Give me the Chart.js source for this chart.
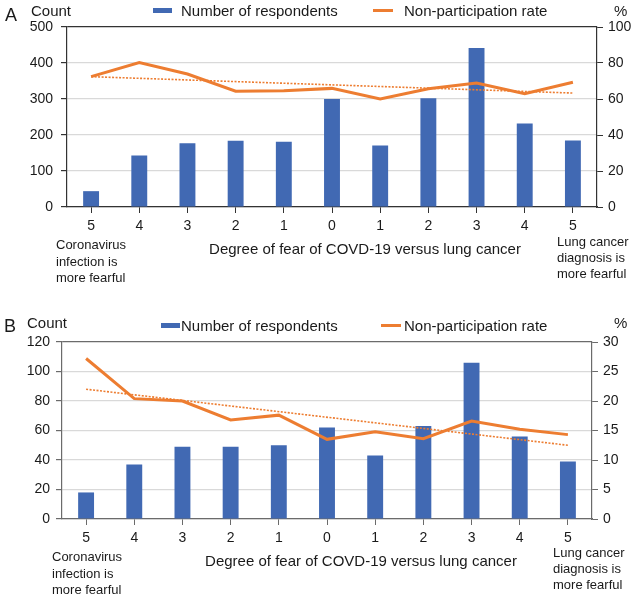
<!DOCTYPE html>
<html>
<head>
<meta charset="utf-8">
<script src="https://cdn.jsdelivr.net/npm/chart.js@4.4.1/dist/chart.umd.min.js"></script>
<style>
  body { margin: 0; background: #fff; }
  #wrap { position: relative; width: 632px; height: 596px; overflow: hidden; font-family: "Liberation Sans", Arial, sans-serif; color: #1a1a1a; }
  canvas { position: absolute; left: 0; }
  .t { position: absolute; line-height: 1; white-space: nowrap; transform: translateY(-50%); }
  .key { position: absolute; }
</style>
</head>
<body>
<div id="wrap">
  <canvas id="chartA" width="632" height="300" style="top:0"></canvas>
  <canvas id="chartB" width="632" height="296" style="top:300px"></canvas>
</div>
<script>
// categories on the x axis (degree of fear)
const categories = ["5", "4", "3", "2", "1", "0", "1", "2", "3", "4", "5"];

// panel A
const respondentsA = [44, 143, 177, 184, 181, 300, 171, 302, 442, 232, 185];
const rateA = [72.4, 80.2, 73.9, 64.3, 64.6, 65.9, 60.0, 65.7, 68.9, 63.0, 69.3];
const trendA = [72.4, 63.3]; // start / end of the dotted trend line
const countTicksA = [0, 100, 200, 300, 400, 500];
const rateTicksA = [0, 20, 40, 60, 80, 100];

// panel B
const respondentsB = [18, 37, 49, 49, 50, 62, 43, 63, 106, 56, 39];
const rateB = [27.2, 20.4, 20.0, 16.8, 17.6, 13.5, 14.8, 13.6, 16.6, 15.2, 14.3];
const trendB = [22.0, 12.5];
const countTicksB = [0, 20, 40, 60, 80, 100, 120];
const rateTicksB = [0, 5, 10, 15, 20, 25, 30];

const BLUE = "#4169b3";
const ORANGE = "#ed7d31";
const FONT = { family: "'Liberation Sans', Arial, sans-serif", size: 14 };

// only the two ends are known, the library joins them
function trendSeries(ends) {
  return categories.map((c, i) => (i === 0 ? ends[0] : i === categories.length - 1 ? ends[1] : null));
}

function makeChart(id, p) {
  const ctx = document.getElementById(id).getContext("2d");
  const countMax = p.countTicks[p.countTicks.length - 1];
  const rateMax = p.rateTicks[p.rateTicks.length - 1];
  return new Chart(ctx, {
    type: "bar",
    data: {
      labels: categories,
      datasets: [
        {
          type: "line",
          data: p.rate,
          yAxisID: "y1",
          borderColor: ORANGE,
          borderWidth: 3,
          pointRadius: 0,
          tension: 0,
          order: 0,
        },
        {
          type: "line",
          data: trendSeries(p.trend),
          yAxisID: "y1",
          borderColor: ORANGE,
          borderWidth: 1.6,
          borderDash: [2, 1.5],
          pointRadius: 0,
          spanGaps: true,
          order: 0,
        },
        {
          data: p.counts,
          yAxisID: "y",
          backgroundColor: BLUE,
          categoryPercentage: 1,
          barPercentage: 0.33,
          order: 1,
        },
      ],
    },
    options: {
      responsive: false,
      animation: false,
      devicePixelRatio: 1,
      layout: { padding: { top: p.top, left: 0, right: 0, bottom: 0 } },
      plugins: { legend: { display: false }, tooltip: { enabled: false } },
      scales: {
        x: {
          grid: { offset: false, drawOnChartArea: false, tickLength: 6, color: p.axis },
          border: { color: p.axis, width: 1.2 },
          ticks: { font: FONT, color: "#1a1a1a", padding: 5, maxRotation: 0 },
          afterFit: (s) => { s.height = p.xHeight; },
        },
        y: {
          position: "left",
          min: 0,
          max: countMax,
          afterBuildTicks: (s) => { s.ticks = p.countTicks.map((v) => ({ value: v })); },
          grid: {
            color: (c) => (c.tick && c.tick.value === countMax ? p.axis : "#d9d9d9"),
            tickColor: p.axis,
            tickLength: 6,
            lineWidth: 1.2,
          },
          border: { color: p.axis, width: 1.2 },
          ticks: { font: FONT, color: "#1a1a1a", padding: p.leftPad },
          afterFit: (s) => { s.width = p.left; },
        },
        y1: {
          position: "right",
          min: 0,
          max: rateMax,
          afterBuildTicks: (s) => { s.ticks = p.rateTicks.map((v) => ({ value: v })); },
          grid: { drawOnChartArea: false, tickColor: p.axis, tickLength: 6 },
          border: { color: p.axis, width: 1.2 },
          ticks: { font: FONT, color: "#1a1a1a", padding: 5 },
          afterFit: (s) => { s.width = p.right; },
        },
      },
    },
  });
}

makeChart("chartA", {
  counts: respondentsA, rate: rateA, trend: trendA,
  countTicks: countTicksA, rateTicks: rateTicksA,
  top: 27, xHeight: 93, left: 67, right: 35, leftPad: 8, axis: "#333",
});

makeChart("chartB", {
  counts: respondentsB, rate: rateB, trend: trendB,
  countTicks: countTicksB, rateTicks: rateTicksB,
  top: 42, xHeight: 77, left: 62, right: 40, leftPad: 6, axis: "#6b6b6b",
});

// text around the plots
const wrap = document.getElementById("wrap");
function addText(str, x, y, size) {
  const d = document.createElement("div");
  d.className = "t";
  d.textContent = str;
  d.style.left = x + "px";
  d.style.top = y + "px";
  d.style.fontSize = size + "px";
  wrap.appendChild(d);
  return d;
}
function addKey(x, y, w, h, color) {
  const d = document.createElement("div");
  d.className = "key";
  Object.assign(d.style, { left: x + "px", top: y - h / 2 + "px", width: w + "px", height: h + "px", background: color });
  wrap.appendChild(d);
}
function addCaption(oy, p) {
  addText(p.letter, p.letterX, oy + p.letterY, 18);
  addText("Count", p.countX, oy + p.headY, 15);
  addText("%", 614, oy + p.headY, 15);
  addKey(p.boxX, oy + p.keyY, 19, 5, BLUE);
  addText("Number of respondents", 181, oy + p.keyY, 15);
  addKey(p.lineX, oy + p.keyY, 20, 3, ORANGE);
  addText("Non-participation rate", 404, oy + p.keyY, 15);
  const title = addText("Degree of fear of COVD-19 versus lung cancer", p.titleX, oy + p.titleY, 15);
  title.style.transform = "translate(-50%, -50%)";
  ["Coronavirus", "infection is", "more fearful"].forEach((s, i) => addText(s, p.noteLX, oy + p.noteLY + i * 16.6, 13));
  ["Lung cancer", "diagnosis is", "more fearful"].forEach((s, i) => addText(s, p.noteRX, oy + p.noteRY + i * 16.2, 13));
}

addCaption(0, {
  letter: "A", letterX: 5, letterY: 15, countX: 31, headY: 10, boxX: 153, lineX: 373, keyY: 10,
  titleX: 365, titleY: 248, noteLX: 56, noteLY: 244, noteRX: 557, noteRY: 241,
});
addCaption(300, {
  letter: "B", letterX: 4, letterY: 26, countX: 27, headY: 22, boxX: 161, lineX: 381, keyY: 25,
  titleX: 361, titleY: 260, noteLX: 52, noteLY: 256, noteRX: 553, noteRY: 252,
});
</script>
</body>
</html>
